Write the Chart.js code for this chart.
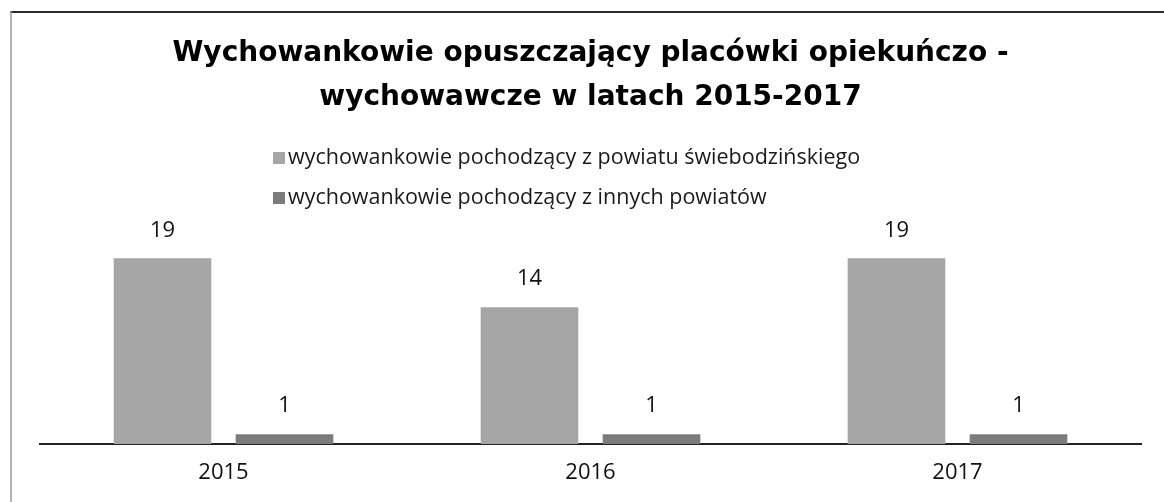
<!DOCTYPE html>
<html>
<head>
<meta charset="utf-8">
<script src="https://cdn.jsdelivr.net/npm/chart.js@4/dist/chart.umd.min.js"></script>
<style>
html,body{margin:0;padding:0;background:#fff;}
#wrap{width:1164px;height:502px;position:relative;}
</style>
</head>
<body>
<div id="wrap"><canvas id="c" width="1164" height="502"></canvas></div>
<script>
const titleLines = ['Wychowankowie opuszczający placówki opiekuńczo -', 'wychowawcze w latach 2015-2017'];
const categories = ['2015', '2016', '2017'];
const seriesNames = ['wychowankowie pochodzący z powiatu świebodzińskiego', 'wychowankowie pochodzący z innych powiatów'];
const seriesLocal = [19, 14, 19];
const seriesOther = [1, 1, 1];
const seriesColors = ['#a6a6a6', '#7c7c7c'];

const frame = {
  id: 'frame',
  beforeDraw(chart) {
    const ctx = chart.ctx;
    ctx.save();
    ctx.fillStyle = '#fff';
    ctx.fillRect(0, 0, chart.width, chart.height);
    ctx.strokeStyle = '#2a2a2a';
    ctx.lineWidth = 2;
    ctx.beginPath(); ctx.moveTo(10, 12); ctx.lineTo(chart.width, 12); ctx.stroke();
    ctx.strokeStyle = '#9a9a9a';
    ctx.lineWidth = 1.5;
    ctx.beginPath(); ctx.moveTo(11, 11); ctx.lineTo(11, chart.height); ctx.stroke();
    ctx.restore();
  }
};

const customLegend = {
  id: 'customLegend',
  afterDraw(chart) {
    const ctx = chart.ctx;
    ctx.save();
    ctx.font = '21.5px "Open Sans"';
    ctx.textBaseline = 'middle';
    const x0 = 273, ys = [158, 198];
    chart.data.datasets.forEach((ds, i) => {
      ctx.fillStyle = ds.backgroundColor;
      ctx.fillRect(x0, ys[i] - 6, 12, 12);
      ctx.fillStyle = '#1a1a1a';
      ctx.fillText(ds.label, x0 + 15, ys[i]);
    });
    ctx.restore();
  }
};

const valueLabels = {
  id: 'valueLabels',
  afterDatasetsDraw(chart) {
    const ctx = chart.ctx;
    ctx.save();
    ctx.font = '22px "Open Sans"';
    ctx.fillStyle = '#111';
    ctx.textAlign = 'center';
    ctx.textBaseline = 'middle';
    chart.data.datasets.forEach((ds, i) => {
      chart.getDatasetMeta(i).data.forEach((bar, j) => {
        ctx.fillText(String(ds.data[j]), bar.x, bar.y - 28);
      });
    });
    ctx.restore();
  }
};

new Chart(document.getElementById('c'), {
  type: 'bar',
  data: {
    labels: categories,
    datasets: [
      { label: seriesNames[0], data: seriesLocal, backgroundColor: seriesColors[0] },
      { label: seriesNames[1], data: seriesOther, backgroundColor: seriesColors[1] }
    ]
  },
  options: {
    responsive: false,
    animation: false,
    devicePixelRatio: 1,
    categoryPercentage: 0.665,
    barPercentage: 0.8,
    layout: { padding: { left: 40, right: 23, bottom: 0 } },
    plugins: {
      legend: { display: false },
      tooltip: { enabled: false },
      title: {
        display: true,
        text: titleLines,
        color: '#000',
        font: { family: 'DejaVu Sans', weight: 'bold', size: 28, lineHeight: 1.6 },
        padding: { top: 31, bottom: 128 }
      }
    },
    scales: {
      x: {
        grid: { display: false, drawTicks: false },
        border: { display: true, color: '#222', width: 2 },
        ticks: { color: '#111', font: { family: 'Open Sans', size: 22, lineHeight: 1.0 }, padding: 18 }
      },
      y: {
        display: false,
        min: 0,
        max: 20
      }
    }
  },
  plugins: [frame, customLegend, valueLabels]
});
</script>
</body>
</html>
